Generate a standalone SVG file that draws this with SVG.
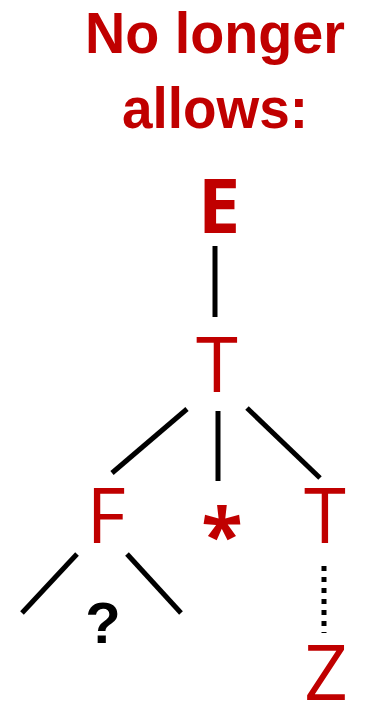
<svg xmlns="http://www.w3.org/2000/svg" width="366" height="703" viewBox="0 0 366 703">
<style>
.title{font-family:"Liberation Sans",Arial,sans-serif;font-weight:bold;font-size:57px;fill:#C00000}
.sym{font-family:"Open Sans","Liberation Sans",sans-serif;font-size:76px;fill:#C00000;text-anchor:middle}
.edge{stroke:#000;stroke-width:5;fill:none}
</style>
<rect width="366" height="703" fill="#fff"/>
<g id="title">
<text class="title" x="85" y="53" textLength="260" lengthAdjust="spacingAndGlyphs">No longer</text>
<text class="title" x="122" y="128" textLength="186" lengthAdjust="spacingAndGlyphs">allows:</text>
</g>
<g id="connectors">
<line class="edge" x1="215" y1="246" x2="215" y2="317"/>
<line class="edge" x1="187" y1="409" x2="112" y2="473"/>
<line class="edge" x1="218" y1="411" x2="218" y2="481"/>
<line class="edge" x1="247" y1="408" x2="320" y2="478"/>
<line class="edge" x1="77" y1="554" x2="22" y2="613"/>
<line class="edge" x1="127" y1="554" x2="181" y2="613"/>
<line class="edge" x1="324" y1="566" x2="324" y2="633" stroke-dasharray="5 6"/>
</g>
<g id="node-E"><text class="sym" x="219" y="233" font-weight="bold" font-size="70">E</text></g>
<g id="node-T1"><text class="sym" x="217" y="392">T</text></g>
<g id="node-F"><text class="sym" x="106" y="543">F</text></g>
<g id="node-star"><text class="sym" x="222" y="562" font-weight="bold" font-size="70">*</text></g>
<g id="node-T2"><text class="sym" x="325" y="543">T</text></g>
<g id="node-q"><text x="103" y="643" font-family="Liberation Sans,Arial,sans-serif" font-weight="bold" font-size="58" fill="#000" text-anchor="middle">?</text></g>
<g id="node-Z"><text class="sym" x="326" y="700" font-size="54">Z</text></g>
</svg>
